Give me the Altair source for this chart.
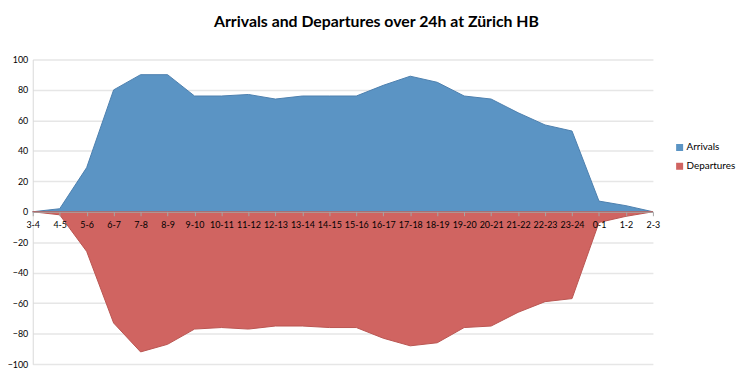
import altair as alt
import pandas as pd

hours = ["3-4", "4-5", "5-6", "6-7", "7-8", "8-9", "9-10", "10-11", "11-12", "12-13",
         "13-14", "14-15", "15-16", "16-17", "17-18", "18-19", "19-20", "20-21",
         "21-22", "22-23", "23-24", "0-1", "1-2", "2-3"]
arrivals = [0, 2, 29, 80, 90, 90, 76, 76, 77, 74, 76, 76, 76, 83, 89, 85, 76, 74,
            65, 57, 53, 7, 4, 0]
departures = [0, -2, -26, -73, -92, -87, -77, -76, -77, -75, -75, -76, -76, -83,
              -88, -86, -76, -75, -66, -59, -57, -7, -3, 0]
series = ["Arrivals", "Departures"]
colors = ["#5b94c4", "#d06461"]
strokes = ["#4d80ae", "#b95551"]
y_ticks = [-100, -80, -60, -40, -20, 0, 20, 40, 60, 80, 100]

rows = []
for i, h in enumerate(hours):
    rows.append({"hour": h, "series": series[0], "value": arrivals[i]})
    rows.append({"hour": h, "series": series[1], "value": departures[i]})
df = pd.DataFrame(rows)

FONT = "Lato"

x_enc = alt.X("hour:N", sort=hours,
              scale=alt.Scale(type="point", padding=0),
              axis=alt.Axis(title=None, labelAngle=0, offset=-154, labelFontSize=9,
                            labelColor="#000000", labelFont=FONT, labelPadding=5,
                            domainColor="#a6a6a6", tickColor="#a6a6a6", tickSize=4,
                            grid=False, labelOverlap=False, labelFlush=False,
                            zindex=1))
y_enc = alt.Y("value:Q", stack=None,
              scale=alt.Scale(domain=[-100, 100], nice=False),
              axis=alt.Axis(title=None, values=y_ticks, labelFontSize=9,
                            labelColor="#000000", labelFont=FONT, labelPadding=5,
                            domainColor="#d9d9d9", ticks=False,
                            gridColor="#e6e6e6", gridWidth=1.5))

area = alt.Chart(df).mark_area(strokeWidth=1, opacity=1).encode(
    x=x_enc,
    y=y_enc,
    color=alt.Color("series:N", scale=alt.Scale(domain=series, range=colors),
                    legend=alt.Legend(title=None, orient="none", legendX=649, legendY=84,
                                      symbolType="square", symbolSize=50,
                                      symbolStrokeWidth=0, labelFont=FONT,
                                      labelFontSize=10, labelColor="#000000",
                                      rowPadding=9, labelOffset=2)),
    stroke=alt.Stroke("series:N", scale=alt.Scale(domain=series, range=strokes),
                      legend=None),
)

chart = alt.layer(area).properties(
    width=627, height=308,
    autosize=alt.AutoSizeParams(type="none"),
    padding={"left": 25, "top": 50, "right": 85, "bottom": 8},
    title=alt.TitleParams("Arrivals and Departures over 24h at Zürich HB",
                          font=FONT, fontSize=16, fontWeight="bold",
                          color="#000000", anchor="middle", dx=34, offset=26),
).configure_view(stroke=None)

chart.save("out.html", embed_options={"renderer": "svg", "actions": False})
